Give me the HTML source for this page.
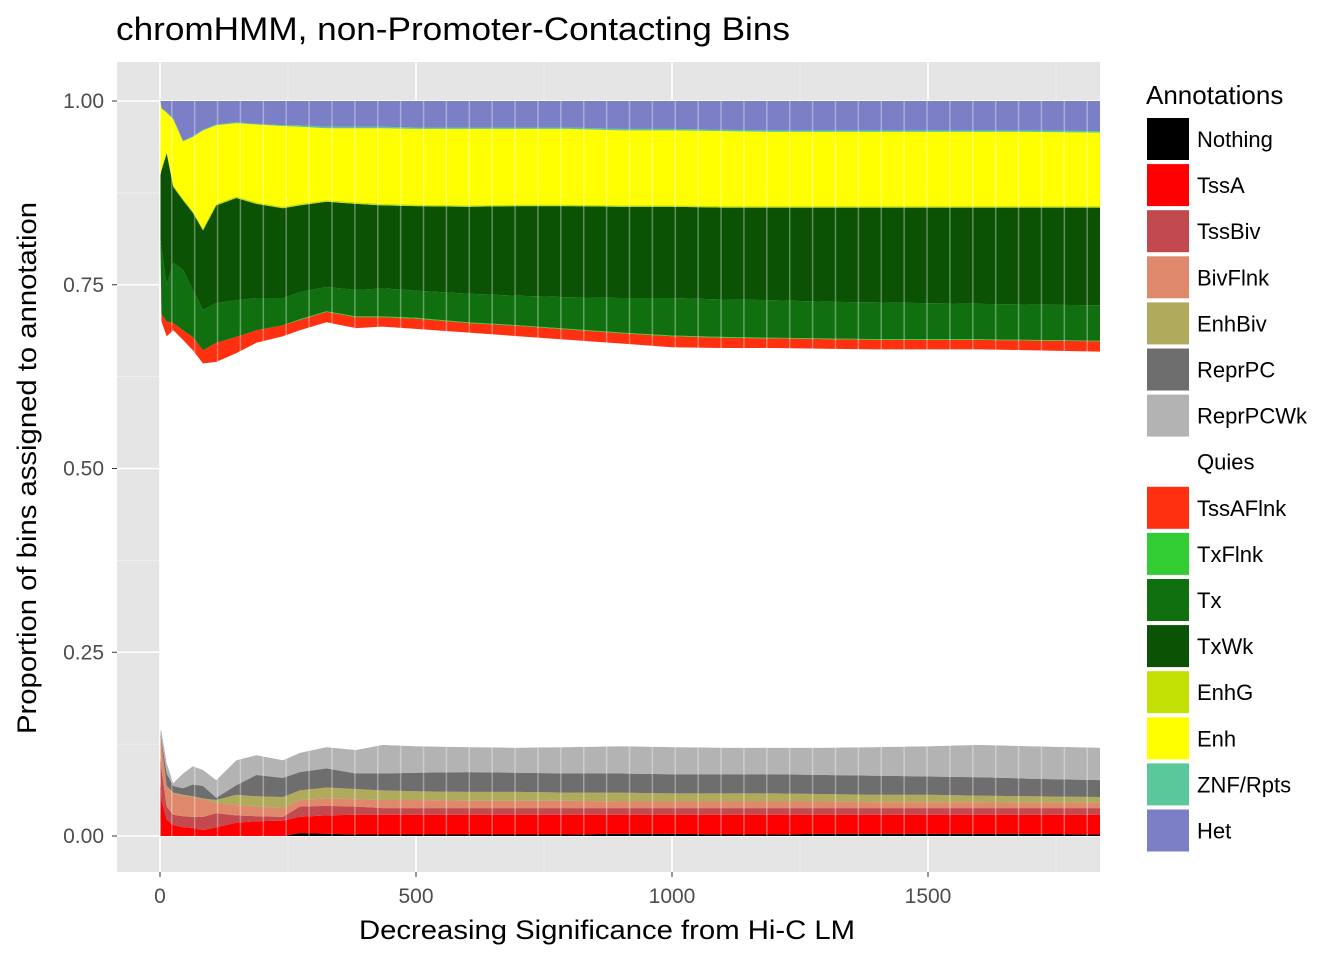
<!DOCTYPE html>
<html><head><meta charset="utf-8">
<style>
body{margin:0;background:#fff;}
svg{display:block;font-family:"Liberation Sans",Arial,sans-serif;}
</style></head>
<body>
<svg id="chart" width="1344" height="960" viewBox="0 0 1344 960">
<text x="116" y="40" font-size="32" fill="#000" textLength="674" lengthAdjust="spacingAndGlyphs">chromHMM, non-Promoter-Contacting Bins</text>
<rect x="117" y="62" width="983" height="810" fill="#e5e5e5"/>
<g id="grid"></g>
<g id="areas"></g>
<g id="gaps"></g>
<g id="axes"></g>
<text transform="translate(36,468) rotate(-90)" text-anchor="middle" font-size="27" fill="#000" textLength="532" lengthAdjust="spacingAndGlyphs">Proportion of bins assigned to annotation</text>
<text x="607" y="939" text-anchor="middle" font-size="27" fill="#000" textLength="496" lengthAdjust="spacingAndGlyphs">Decreasing Significance from Hi-C LM</text>
<text x="1146" y="104" font-size="26" fill="#000">Annotations</text>
<g id="legend"></g>
</svg>
<script>
const xs = [1,3,13,26,45,64,84,110,149,188,240,273,325,383,435,500,600,700,800,900,1000,1100,1200,1300,1400,1500,1600,1700,1836];
// cumulative upper boundary of each annotation layer (proportion)
const nothing  = [0,0,0,0,0,0,0,0,0,0,0,.004,.003,.002,.002,.002,.002,.002,.002,.003,.003,.002,.002,.003,.003,.003,.003,.003,.002];
const tssA     = [.08,.049,.022,.015,.012,.011,.008,.012,.018,.02,.021,.026,.028,.029,.029,.029,.029,.029,.029,.029,.029,.029,.029,.029,.029,.029,.029,.029,.029];
const tssBiv   = [.11,.09,.04,.029,.027,.026,.026,.031,.028,.027,.026,.04,.041,.04,.038,.038,.038,.038,.038,.038,.038,.038,.038,.038,.038,.038,.038,.038,.038];
const bivFlnk  = [.135,.125,.067,.058,.055,.053,.05,.045,.042,.04,.038,.049,.051,.05,.049,.049,.048,.048,.048,.047,.047,.047,.047,.047,.046,.046,.046,.045,.045];
const enhBiv   = [.135,.125,.068,.059,.056,.054,.051,.049,.056,.054,.053,.062,.066,.064,.062,.061,.06,.06,.059,.059,.058,.058,.058,.057,.056,.056,.055,.054,.053];
const reprPC   = [.14,.13,.085,.068,.065,.07,.068,.052,.069,.083,.079,.087,.092,.085,.085,.086,.087,.086,.085,.085,.084,.084,.084,.083,.082,.081,.08,.078,.076];
const reprPCWk = [.145,.142,.099,.072,.085,.095,.09,.076,.103,.11,.103,.113,.121,.117,.124,.122,.121,.12,.121,.122,.121,.12,.12,.12,.121,.122,.124,.122,.12];
const quies    = [.80,.70,.68,.688,.675,.661,.643,.645,.657,.671,.68,.688,.699,.691,.693,.69,.685,.68,.675,.67,.665,.664,.664,.663,.662,.662,.662,.661,.659];
const tssAFlnk = [.80,.71,.70,.698,.688,.679,.661,.671,.679,.688,.695,.702,.713,.706,.706,.704,.698,.694,.689,.684,.68,.678,.677,.676,.675,.675,.675,.674,.673];
const txFlnk   = [.80,.71,.70,.698,.688,.679,.661,.671,.679,.688,.695,.703,.714,.707,.707,.705,.699,.695,.69,.685,.681,.679,.678,.677,.676,.676,.676,.675,.674];
const tx       = [.81,.80,.75,.78,.77,.743,.716,.725,.729,.732,.732,.74,.747,.743,.745,.742,.738,.735,.733,.732,.732,.73,.729,.727,.726,.725,.724,.723,.722];
const txWk     = [.90,.906,.929,.883,.865,.848,.824,.858,.868,.86,.854,.858,.863,.86,.858,.857,.856,.857,.857,.856,.856,.855,.855,.855,.855,.855,.855,.855,.855];
const enhG     = [.90,.906,.93,.885,.867,.85,.826,.86,.87,.862,.856,.86,.865,.862,.86,.859,.858,.859,.859,.858,.858,.857,.857,.857,.857,.857,.857,.857,.857];
const enh      = [1,.99,.984,.975,.945,.951,.96,.967,.97,.968,.966,.965,.963,.963,.963,.962,.962,.962,.962,.96,.96,.959,.958,.958,.958,.958,.958,.958,.957];
const znf      = [1,.99,.985,.976,.946,.952,.961,.968,.971,.969,.967,.967,.965,.965,.965,.964,.964,.964,.964,.962,.962,.961,.96,.96,.96,.96,.96,.96,.959];
const het      = xs.map(()=>1);
const names  = ["Nothing","TssA","TssBiv","BivFlnk","EnhBiv","ReprPC","ReprPCWk","Quies","TssAFlnk","TxFlnk","Tx","TxWk","EnhG","Enh","ZNF/Rpts","Het"];
const series = [nothing,tssA,tssBiv,bivFlnk,enhBiv,reprPC,reprPCWk,quies,tssAFlnk,txFlnk,tx,txWk,enhG,enh,znf,het];
const colors = ["#000000","#ff0000","#c24a4e","#e0886c","#b0aa5c","#6e6e6e","#b3b3b3","#ffffff","#ff3010","#32cd32","#107010","#0b5205","#c2e105","#ffff00","#5ac89a","#7b7fc6"];
const yTicks = [0,0.25,0.5,0.75,1];
const yLabels = ["0.00","0.25","0.50","0.75","1.00"];
const xTicks = [0,500,1000,1500];

const NS="http://www.w3.org/2000/svg";
const X = u => 160 + u*0.512;
const Y = v => 836 - v*735;
function mk(tag,attrs,parent){const e=document.createElementNS(NS,tag);for(const k in attrs)e.setAttribute(k,attrs[k]);parent.appendChild(e);return e;}

const grid=document.getElementById('grid');
for(let i=0;i<yTicks.length;i++){
  const l=mk('line',{x1:117,x2:1100,y1:Y(yTicks[i]),y2:Y(yTicks[i]),stroke:'#fff','stroke-width':1.6},grid);
  
  
  if(i<yTicks.length-1){
    const m=mk('line',{x1:117,x2:1100,y1:Y((yTicks[i]+yTicks[i+1])/2),y2:Y((yTicks[i]+yTicks[i+1])/2),stroke:'#f2f2f2','stroke-width':0.8},grid);
    
    
  }
}
for(const t of xTicks){
  const l=mk('line',{x1:X(t),x2:X(t),y1:62,y2:872,stroke:'#fff','stroke-width':1.6},grid);
  
  
  if(X(t+250)<1100){
    const m=mk('line',{x1:X(t+250),x2:X(t+250),y1:62,y2:872,stroke:'#f2f2f2','stroke-width':0.8},grid);
    
    
  }
}

const areas=document.getElementById('areas');
for(let s=0;s<series.length;s++){
  const top=series[s];
  const bot=s===0?xs.map(()=>0):series[s-1];
  let pts=[];
  for(let i=0;i<xs.length;i++)pts.push(X(xs[i]).toFixed(1)+','+Y(top[i]).toFixed(1));
  for(let i=xs.length-1;i>=0;i--)pts.push(X(xs[i]).toFixed(1)+','+Y(bot[i]).toFixed(1));
  const p=mk('polygon',{points:pts.join(' '),fill:colors[s]},areas);
  
  
}
const gaps=document.getElementById('gaps');
for(let u=23;u<xs[xs.length-1];u+=44.7){
  const g=mk('line',{x1:X(u),x2:X(u),y1:Y(1),y2:Y(0),stroke:'rgba(255,255,255,0.35)','stroke-width':1.5},gaps);
  
  
}

const axes=document.getElementById('axes');
for(let i=0;i<yTicks.length;i++){
  const y=Y(yTicks[i]);
  const t=mk('line',{x1:112,x2:117,y1:y,y2:y,stroke:'#333','stroke-width':1},axes);
  
  
  const lb=mk('text',{x:104,y:y+7,'text-anchor':'end','font-size':21,fill:'#4d4d4d'},axes);
  lb.textContent=yLabels[i];
  
  
}
for(const v of xTicks){
  const x=X(v);
  const t=mk('line',{x1:x,x2:x,y1:872,y2:877,stroke:'#333','stroke-width':1},axes);
  
  
  const lb=mk('text',{x:x,y:903,'text-anchor':'middle','font-size':21,fill:'#4d4d4d'},axes);
  lb.textContent=String(v);
  
  
}

const legend=document.getElementById('legend');
for(let i=0;i<names.length;i++){
  const y=118+i*46.1;
  const r=mk('rect',{x:1147,y:y,width:42,height:42,fill:colors[i]},legend);
  
  
  const t=mk('text',{x:1197,y:y+29,'font-size':22,fill:'#000'},legend);
  t.textContent=names[i];
  
  
}
</script>
</body></html>
